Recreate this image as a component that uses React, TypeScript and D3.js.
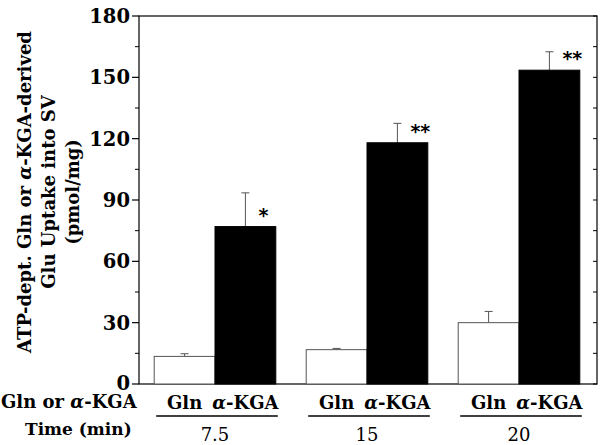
import React from "react";
import * as d3 from "d3";

// data
const times = ["7.5", "15", "20"];
const treatments = ["Gln", "α-KGA"];
const glnValues = [13.5, 16.8, 30];
const glnErrors = [1.3, 0.6, 5.5];
const kgaValues = [77, 118, 153.5];
const kgaErrors = [16.5, 9.5, 9];
const stars = ["*", "**", "**"];
const yTicks = [0, 30, 60, 90, 120, 150, 180];
const yMinorTicks = [15, 45, 75, 105, 135, 165];

const W = 604;
const H = 445;
const plot = { left: 139, right: 597, top: 16, bottom: 384 };
const serif = "DejaVu Serif";

export default function App() {
  const y = d3.scaleLinear().domain([0, 180]).range([plot.bottom, plot.top]);
  const xGroup = d3.scaleBand<string>()
    .domain(times)
    .range([plot.left, plot.right - 2])
    .paddingInner(0.2)
    .paddingOuter(0.1);
  const xBar = d3.scaleBand<string>()
    .domain(treatments)
    .range([0, xGroup.bandwidth()]);

  const series = times.map((t, i) => ({
    time: t,
    bars: [
      { key: treatments[0], v: glnValues[i], e: glnErrors[i], fill: "#fff" },
      { key: treatments[1], v: kgaValues[i], e: kgaErrors[i], fill: "#000" },
    ],
    star: stars[i],
  }));

  return (
    <svg width={W} height={H} style={{ position: "absolute", left: 0, top: 0, background: "#fff", fontFamily: serif }}>
      {/* frame */}
      <rect x={plot.left} y={plot.top} width={plot.right - plot.left} height={plot.bottom - plot.top}
        fill="none" stroke="#000" strokeWidth={1.2} />

      {/* bars */}
      {series.map((g) => (
        <g key={g.time} transform={`translate(${xGroup(g.time)},0)`}>
          {g.bars.map((b) => {
            const bx = xBar(b.key)!;
            const bw = xBar.bandwidth();
            const cx = bx + bw / 2;
            return (
              <g key={b.key}>
                <line x1={cx} x2={cx} y1={y(b.v)} y2={y(b.v + b.e)} stroke="#555" strokeWidth={1} />
                <line x1={cx - 4} x2={cx + 4} y1={y(b.v + b.e)} y2={y(b.v + b.e)} stroke="#555" strokeWidth={1} />
                <rect x={bx} y={y(b.v)} width={bw} height={plot.bottom - y(b.v)}
                  fill={b.fill} stroke={b.fill === "#000" ? "#000" : "#555"} strokeWidth={1} />
              </g>
            );
          })}
          <text x={xBar(treatments[1])! + xBar.bandwidth() / 2 + 13} y={y(g.bars[1].v) - 5}
            style={{ fontFamily: "DejaVu Sans" }} fontWeight="bold" fontSize={19}>{g.star}</text>
        </g>
      ))}

      {/* left axis ticks */}
      {yTicks.map((t) => (
        <g key={t}>
          <line x1={plot.left - 7} x2={plot.left} y1={y(t)} y2={y(t)} stroke="#000" strokeWidth={1.2} />
          <line x1={plot.right - 4} x2={plot.right} y1={y(t)} y2={y(t)} stroke="#000" strokeWidth={1} />
          <text x={plot.left - 9} y={y(t)} dy={t === 0 ? "0.3em" : "0.36em"} textAnchor="end" fontSize={19.5}
            fontWeight="bold">{t}</text>
        </g>
      ))}
      {yMinorTicks.map((t) => (
        <g key={t}>
          <line x1={plot.left - 4} x2={plot.left} y1={y(t)} y2={y(t)} stroke="#000" strokeWidth={1} />
          <line x1={plot.right - 4} x2={plot.right} y1={y(t)} y2={y(t)} stroke="#000" strokeWidth={1} />
        </g>
      ))}

      {/* y label */}
      <g fontWeight="bold" fontSize={18} textAnchor="middle">
        <text transform={`translate(25,192) rotate(-90)`} dy="0.35em">
          ATP-dept. Gln or <tspan fontStyle="italic">α</tspan>-KGA-derived
        </text>
        <text transform={`translate(49,192) rotate(-90)`} dy="0.35em">Glu Uptake into SV</text>
        <text transform={`translate(73,192) rotate(-90)`} dy="0.35em">(pmol/mg)</text>
      </g>

      {/* x labels */}
      <g fontWeight="bold">
        <text x={1} y={408} fontSize={18}>Gln or <tspan fontStyle="italic">α</tspan>-KGA</text>
        <text x={25} y={435} fontSize={17}>Time (min)</text>
      </g>
      {series.map((g) => {
        const gx = xGroup(g.time)!;
        return (
          <g key={g.time} transform={`translate(${gx},0)`}>
            {treatments.map((t) => (
              <text key={t} x={xBar(t)! + xBar.bandwidth() / 2} y={409} textAnchor="middle"
                fontWeight="bold" fontSize={18}>
                {t === "α-KGA" ? (<><tspan fontStyle="italic">α</tspan>-KGA</>) : t}
              </text>
            ))}
            <line x1={2} x2={xGroup.bandwidth() + 2} y1={416} y2={416} stroke="#000" strokeWidth={1.5} />
            <text x={xGroup.bandwidth() / 2} y={441} textAnchor="middle" fontSize={18}>{g.time}</text>
          </g>
        );
      })}
    </svg>
  );
}
